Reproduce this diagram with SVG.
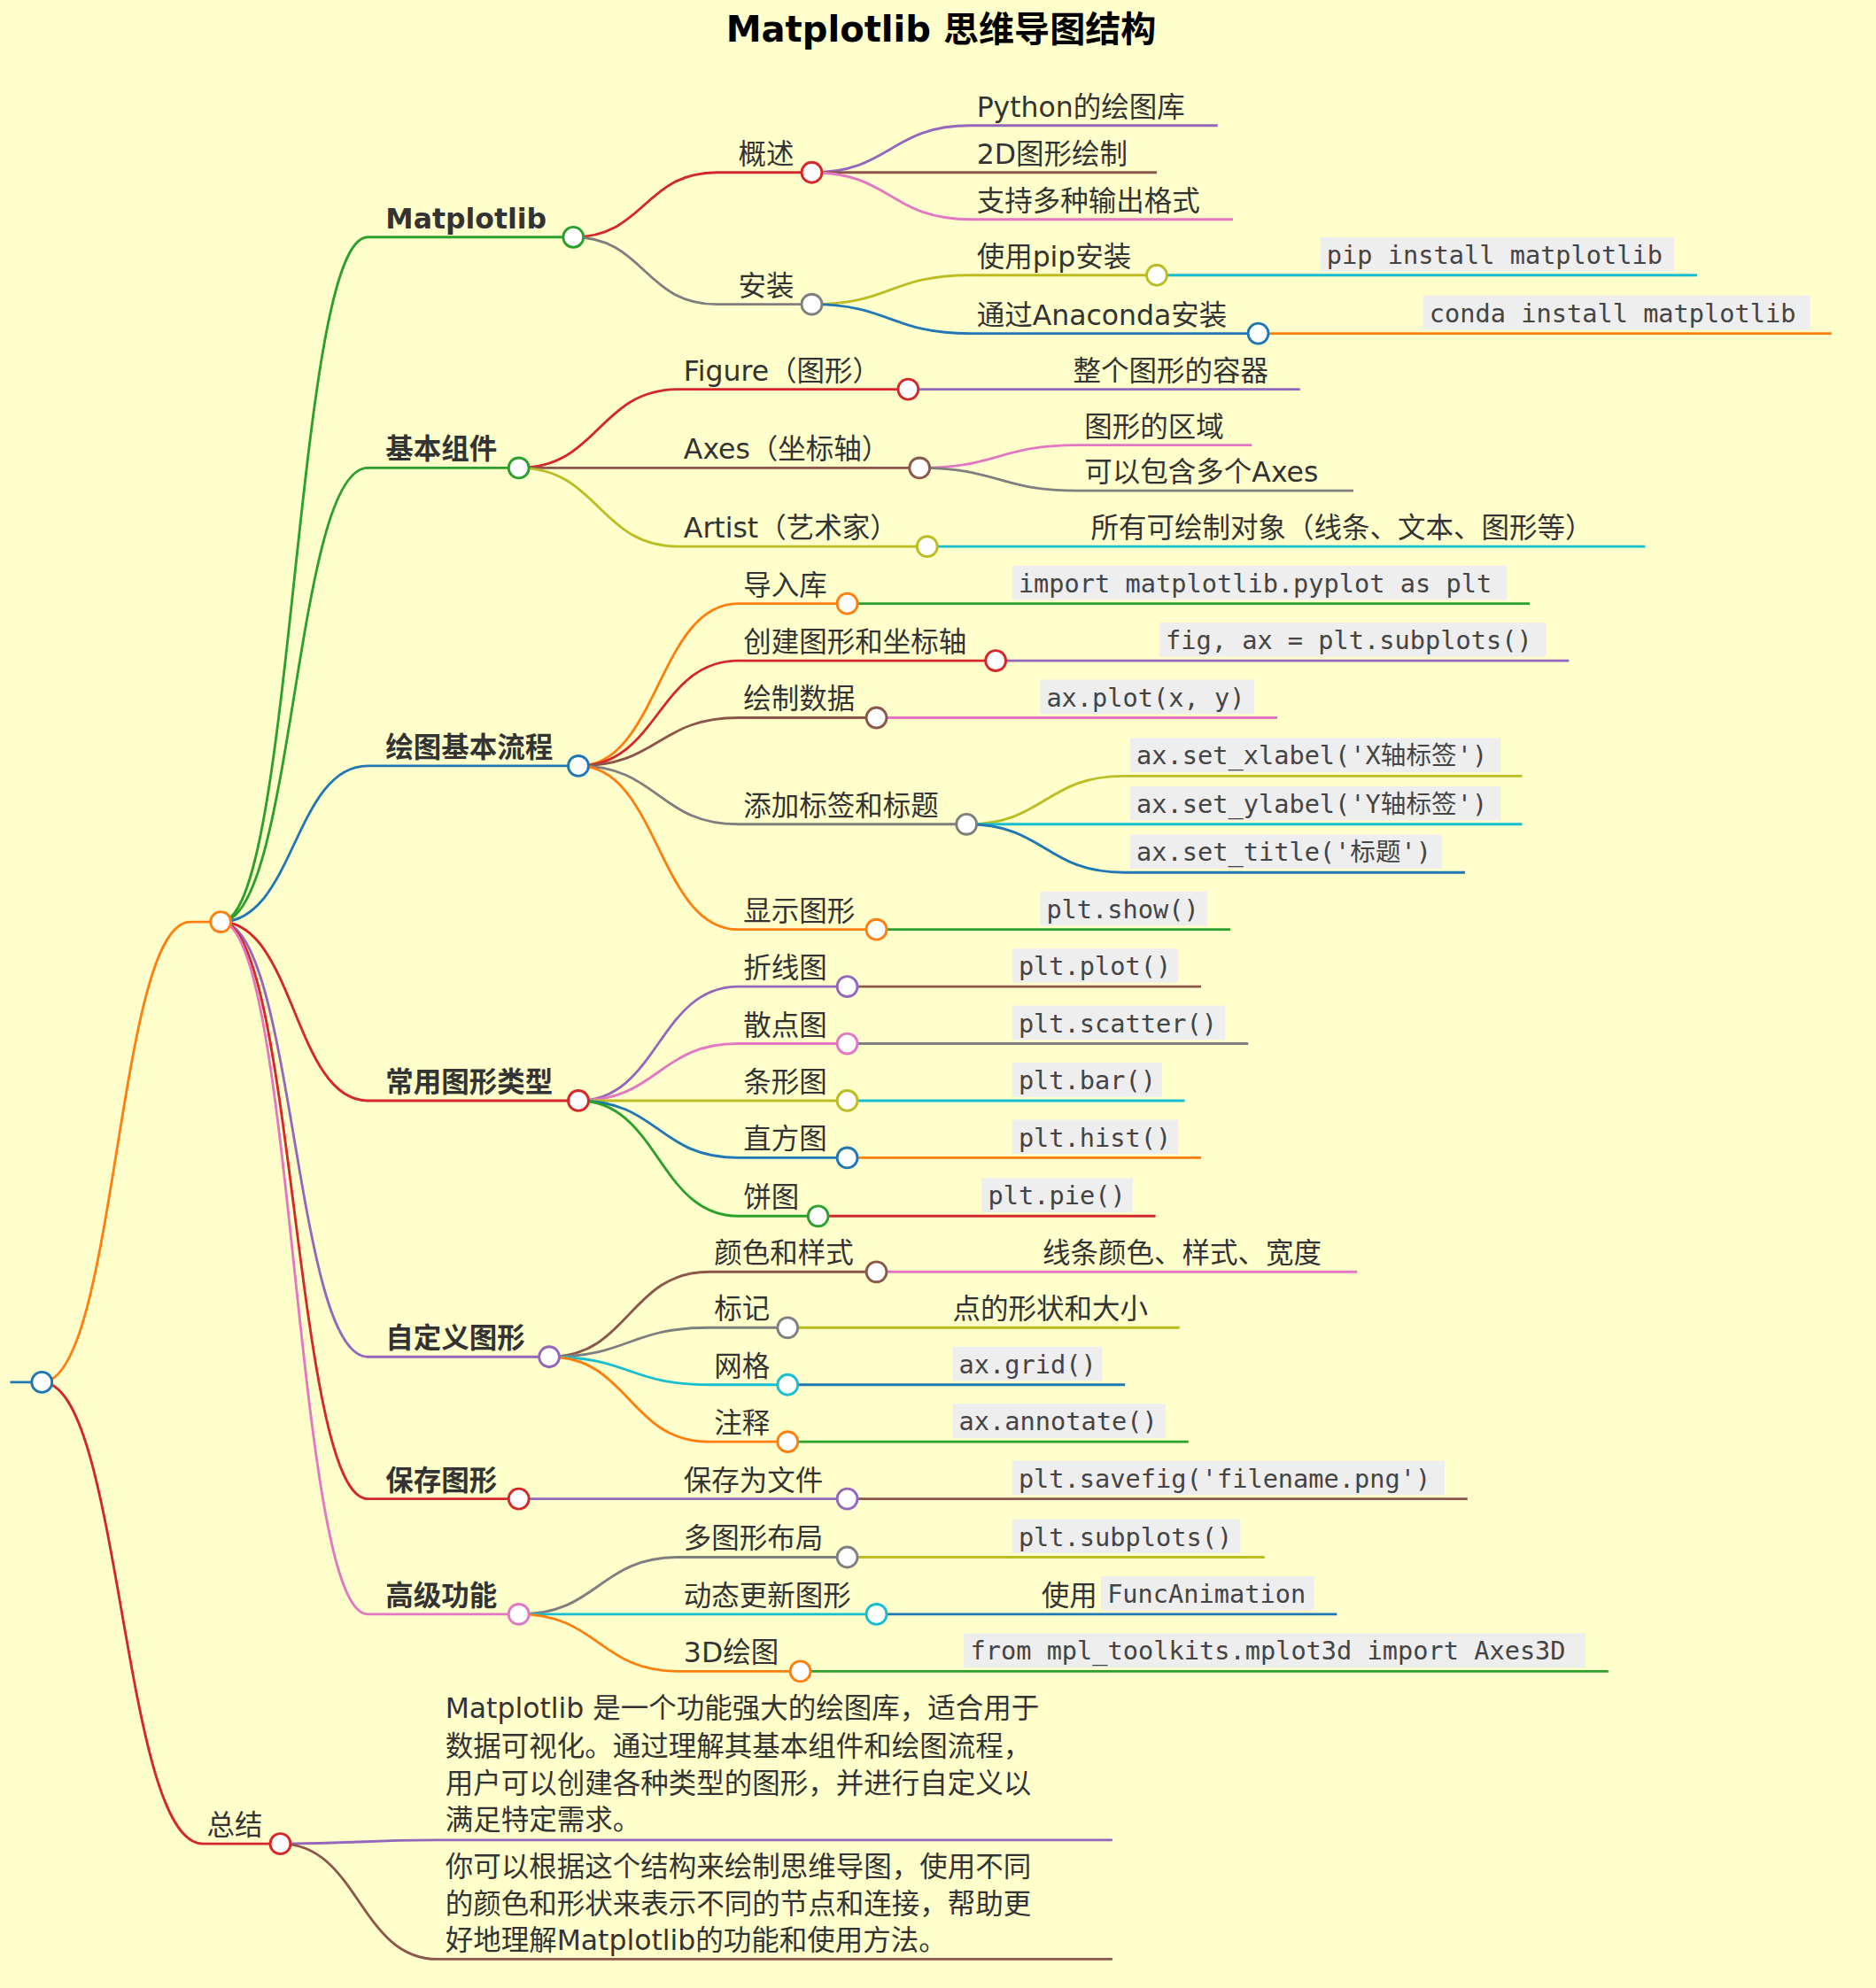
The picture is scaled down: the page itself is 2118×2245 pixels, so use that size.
<svg xmlns="http://www.w3.org/2000/svg" width="2118" height="2245" viewBox="0 0 2118 2245">
<style>
text{font-family:"DejaVu Sans","Noto Sans CJK SC",sans-serif;font-size:22px;fill:#333}
.b{font-weight:bold}
.m{font-family:"DejaVu Sans Mono","Liberation Mono","Noto Sans CJK SC",monospace;font-size:20px;fill:#444}
.box{fill:#eeeeee}
path{fill:none;stroke-width:2}
circle{fill:#fff;stroke-width:2}
.blue{stroke:#1f77b4}.orange{stroke:#ff7f0e}.green{stroke:#2ca02c}.red{stroke:#d62728}.purple{stroke:#9467bd}.brown{stroke:#8c564b}.pink{stroke:#e377c2}.gray{stroke:#7f7f7f}.olive{stroke:#bcbd22}.cyan{stroke:#17becf}
</style>
<rect width="2118" height="2245" fill="#ffffcc"/>
<g transform="scale(1.432)">
<text x="742" y="33" text-anchor="middle" class="b" style="font-size:28px;fill:#000">Matplotlib 思维导图结构</text>
<g id="connectors">
<path class="blue" d="M8 1090 L33 1090"/>
<path class="orange" d="M33 1090 C92 1090 92 727 150 727 L174 727"/>
<path class="red" d="M33 1090 C96 1090 96 1454 160 1454 L221 1454"/>
<path class="green" d="M174 727 C232 727 232 187 290 187 L452 187"/>
<path class="green" d="M174 727 C232 727 232 369 290 369 L409 369"/>
<path class="blue" d="M174 727 C232 727 232 604 290 604 L456 604"/>
<path class="red" d="M174 727 C232 727 232 868 290 868 L456 868"/>
<path class="purple" d="M174 727 C232 727 232 1070 290 1070 L433 1070"/>
<path class="red" d="M174 727 C232 727 232 1182 290 1182 L409 1182"/>
<path class="pink" d="M174 727 C232 727 232 1273 290 1273 L409 1273"/>
<path class="red" d="M452 187 C508 187 508 136 565 136 L640 136"/>
<path class="gray" d="M452 187 C508 187 508 240 565 240 L640 240"/>
<path class="purple" d="M640 136 C702 136 702 99 765 99 L960 99"/>
<path class="brown" d="M640 136 L912 136"/>
<path class="pink" d="M640 136 C702 136 702 173 765 173 L972 173"/>
<path class="olive" d="M640 240 C702 240 702 217 765 217 L912 217"/>
<path class="blue" d="M640 240 C702 240 702 263 765 263 L992 263"/>
<path class="cyan" d="M912 217 L1338 217"/>
<path class="orange" d="M992 263 L1444 263"/>
<path class="red" d="M409 369 C472 369 472 307 535 307 L716 307"/>
<path class="brown" d="M409 369 L725 369"/>
<path class="olive" d="M409 369 C472 369 472 431 535 431 L731 431"/>
<path class="purple" d="M716 307 L1025 307"/>
<path class="pink" d="M725 369 C787 369 787 351 850 351 L987 351"/>
<path class="gray" d="M725 369 C787 369 787 387 850 387 L1067 387"/>
<path class="cyan" d="M731 431 L1297 431"/>
<path class="orange" d="M456 604 C519 604 519 476 582 476 L668 476"/>
<path class="red" d="M456 604 C519 604 519 521 582 521 L785 521"/>
<path class="brown" d="M456 604 C519 604 519 566 582 566 L691 566"/>
<path class="gray" d="M456 604 C519 604 519 650 582 650 L762 650"/>
<path class="orange" d="M456 604 C519 604 519 733 582 733 L691 733"/>
<path class="green" d="M668 476 L1206 476"/>
<path class="purple" d="M785 521 L1237 521"/>
<path class="pink" d="M691 566 L1007 566"/>
<path class="olive" d="M762 650 C824 650 824 612 886 612 L1200 612"/>
<path class="cyan" d="M762 650 L1200 650"/>
<path class="blue" d="M762 650 C824 650 824 688 886 688 L1155 688"/>
<path class="green" d="M691 733 L970 733"/>
<path class="purple" d="M456 868 C519 868 519 778 582 778 L668 778"/>
<path class="pink" d="M456 868 C519 868 519 823 582 823 L668 823"/>
<path class="olive" d="M456 868 L668 868"/>
<path class="blue" d="M456 868 C519 868 519 913 582 913 L668 913"/>
<path class="green" d="M456 868 C519 868 519 959 582 959 L645 959"/>
<path class="brown" d="M668 778 L947 778"/>
<path class="gray" d="M668 823 L984 823"/>
<path class="cyan" d="M668 868 L934 868"/>
<path class="orange" d="M668 913 L947 913"/>
<path class="red" d="M645 959 L911 959"/>
<path class="brown" d="M433 1070 C496 1070 496 1003 559 1003 L691 1003"/>
<path class="gray" d="M433 1070 C496 1070 496 1047 559 1047 L621 1047"/>
<path class="cyan" d="M433 1070 C496 1070 496 1092 559 1092 L621 1092"/>
<path class="orange" d="M433 1070 C496 1070 496 1137 559 1137 L621 1137"/>
<path class="pink" d="M691 1003 L1070 1003"/>
<path class="olive" d="M621 1047 L930 1047"/>
<path class="blue" d="M621 1092 L887 1092"/>
<path class="green" d="M621 1137 L937 1137"/>
<path class="purple" d="M409 1182 L668 1182"/>
<path class="brown" d="M668 1182 L1157 1182"/>
<path class="gray" d="M409 1273 C472 1273 472 1228 535 1228 L668 1228"/>
<path class="cyan" d="M409 1273 L691 1273"/>
<path class="orange" d="M409 1273 C472 1273 472 1318 535 1318 L631 1318"/>
<path class="olive" d="M668 1228 L997 1228"/>
<path class="blue" d="M691 1273 L1054 1273"/>
<path class="green" d="M631 1318 L1268 1318"/>
<path class="purple" d="M221 1454 C283 1454 283 1451 345 1451 L877 1451"/>
<path class="brown" d="M221 1454 C283 1454 283 1545 345 1545 L877 1545"/>
</g>
<g id="root"><circle class="blue" cx="33" cy="1090" r="8"/></g>
<g id="hub"><circle class="orange" cx="174" cy="727" r="8"/></g>
<g id="summary"><text x="163" y="1447">总结</text><circle class="red" cx="221" cy="1454" r="8"/>
<text x="351" y="1355">Matplotlib 是一个功能强大的绘图库，适合用于</text>
<text x="351" y="1385">数据可视化。通过理解其基本组件和绘图流程，</text>
<text x="351" y="1414">用户可以创建各种类型的图形，并进行自定义以</text>
<text x="351" y="1443">满足特定需求。</text>
<text x="351" y="1480">你可以根据这个结构来绘制思维导图，使用不同</text>
<text x="351" y="1509">的颜色和形状来表示不同的节点和连接，帮助更</text>
<text x="351" y="1538">好地理解Matplotlib的功能和使用方法。</text></g>
<g id="matplotlib"><text x="304" y="180" class="b">Matplotlib</text><circle class="green" cx="452" cy="187" r="8"/>
<text x="582" y="129">概述</text><circle class="red" cx="640" cy="136" r="8"/>
<text x="770" y="92">Python的绘图库</text><text x="770" y="129">2D图形绘制</text><text x="770" y="166">支持多种输出格式</text>
<text x="582" y="233">安装</text><circle class="gray" cx="640" cy="240" r="8"/>
<text x="770" y="210">使用pip安装</text><circle class="olive" cx="912" cy="217" r="8"/>
<rect class="box" x="1041" y="187" width="279" height="27"/><text class="m" x="1046" y="208">pip install matplotlib</text>
<text x="770" y="256">通过Anaconda安装</text><circle class="blue" cx="992" cy="263" r="8"/>
<rect class="box" x="1122" y="233" width="305" height="27"/><text class="m" x="1127" y="254">conda install matplotlib</text></g>
<g id="basic"><text x="304" y="362" class="b">基本组件</text><circle class="green" cx="409" cy="369" r="8"/>
<text x="539" y="300">Figure（图形）</text><circle class="red" cx="716" cy="307" r="8"/><text x="846" y="300">整个图形的容器</text>
<text x="539" y="362">Axes（坐标轴）</text><circle class="brown" cx="725" cy="369" r="8"/><text x="855" y="344">图形的区域</text><text x="855" y="380">可以包含多个Axes</text>
<text x="539" y="424">Artist（艺术家）</text><circle class="olive" cx="731" cy="431" r="8"/><text x="860" y="424">所有可绘制对象（线条、文本、图形等）</text></g>
<g id="flow"><text x="304" y="597" class="b">绘图基本流程</text><circle class="blue" cx="456" cy="604" r="8"/>
<text x="586" y="469">导入库</text><circle class="orange" cx="668" cy="476" r="8"/>
<rect class="box" x="798" y="446" width="390" height="27"/><text class="m" x="803" y="467">import matplotlib.pyplot as plt</text>
<text x="586" y="514">创建图形和坐标轴</text><circle class="red" cx="785" cy="521" r="8"/>
<rect class="box" x="914" y="491" width="305" height="27"/><text class="m" x="919" y="512">fig, ax = plt.subplots()</text>
<text x="586" y="559">绘制数据</text><circle class="brown" cx="691" cy="566" r="8"/>
<rect class="box" x="820" y="536" width="169" height="27"/><text class="m" x="825" y="557">ax.plot(x, y)</text>
<text x="586" y="643">添加标签和标题</text><circle class="gray" cx="762" cy="650" r="8"/>
<rect class="box" x="891" y="582" width="292" height="27"/><text class="m" x="896" y="603">ax.set_xlabel('X轴标签')</text>
<rect class="box" x="891" y="620" width="292" height="27"/><text class="m" x="896" y="641">ax.set_ylabel('Y轴标签')</text>
<rect class="box" x="891" y="658" width="246" height="27"/><text class="m" x="896" y="679">ax.set_title('标题')</text>
<text x="586" y="726">显示图形</text><circle class="orange" cx="691" cy="733" r="8"/>
<rect class="box" x="820" y="703" width="132" height="27"/><text class="m" x="825" y="724">plt.show()</text></g>
<g id="types"><text x="304" y="861" class="b">常用图形类型</text><circle class="red" cx="456" cy="868" r="8"/>
<text x="586" y="771">折线图</text><circle class="purple" cx="668" cy="778" r="8"/>
<rect class="box" x="798" y="748" width="131" height="27"/><text class="m" x="803" y="769">plt.plot()</text>
<text x="586" y="816">散点图</text><circle class="pink" cx="668" cy="823" r="8"/>
<rect class="box" x="798" y="793" width="168" height="27"/><text class="m" x="803" y="814">plt.scatter()</text>
<text x="586" y="861">条形图</text><circle class="olive" cx="668" cy="868" r="8"/>
<rect class="box" x="798" y="838" width="118" height="27"/><text class="m" x="803" y="859">plt.bar()</text>
<text x="586" y="906">直方图</text><circle class="blue" cx="668" cy="913" r="8"/>
<rect class="box" x="798" y="883" width="131" height="27"/><text class="m" x="803" y="904">plt.hist()</text>
<text x="586" y="952">饼图</text><circle class="green" cx="645" cy="959" r="8"/>
<rect class="box" x="774" y="929" width="119" height="27"/><text class="m" x="779" y="950">plt.pie()</text></g>
<g id="custom"><text x="304" y="1063" class="b">自定义图形</text><circle class="purple" cx="433" cy="1070" r="8"/>
<text x="563" y="996">颜色和样式</text><circle class="brown" cx="691" cy="1003" r="8"/><text x="822" y="996">线条颜色、样式、宽度</text>
<text x="563" y="1040">标记</text><circle class="gray" cx="621" cy="1047" r="8"/><text x="751" y="1040">点的形状和大小</text>
<text x="563" y="1085">网格</text><circle class="cyan" cx="621" cy="1092" r="8"/>
<rect class="box" x="751" y="1062" width="118" height="27"/><text class="m" x="756" y="1083">ax.grid()</text>
<text x="563" y="1130">注释</text><circle class="orange" cx="621" cy="1137" r="8"/>
<rect class="box" x="751" y="1107" width="168" height="27"/><text class="m" x="756" y="1128">ax.annotate()</text></g>
<g id="save"><text x="304" y="1175" class="b">保存图形</text><circle class="red" cx="409" cy="1182" r="8"/>
<text x="539" y="1175">保存为文件</text><circle class="purple" cx="668" cy="1182" r="8"/>
<rect class="box" x="798" y="1152" width="341" height="27"/><text class="m" x="803" y="1173">plt.savefig('filename.png')</text></g>
<g id="advanced"><text x="304" y="1266" class="b">高级功能</text><circle class="pink" cx="409" cy="1273" r="8"/>
<text x="539" y="1221">多图形布局</text><circle class="gray" cx="668" cy="1228" r="8"/>
<rect class="box" x="798" y="1198" width="180" height="27"/><text class="m" x="803" y="1219">plt.subplots()</text>
<text x="539" y="1266">动态更新图形</text><circle class="cyan" cx="691" cy="1273" r="8"/>
<text x="821" y="1266">使用</text><rect class="box" x="868" y="1243" width="168" height="27"/><text class="m" x="873" y="1264">FuncAnimation</text>
<text x="539" y="1311">3D绘图</text><circle class="orange" cx="631" cy="1318" r="8"/>
<rect class="box" x="760" y="1288" width="490" height="27"/><text class="m" x="765" y="1309">from mpl_toolkits.mplot3d import Axes3D</text></g>
</g>
</svg>
